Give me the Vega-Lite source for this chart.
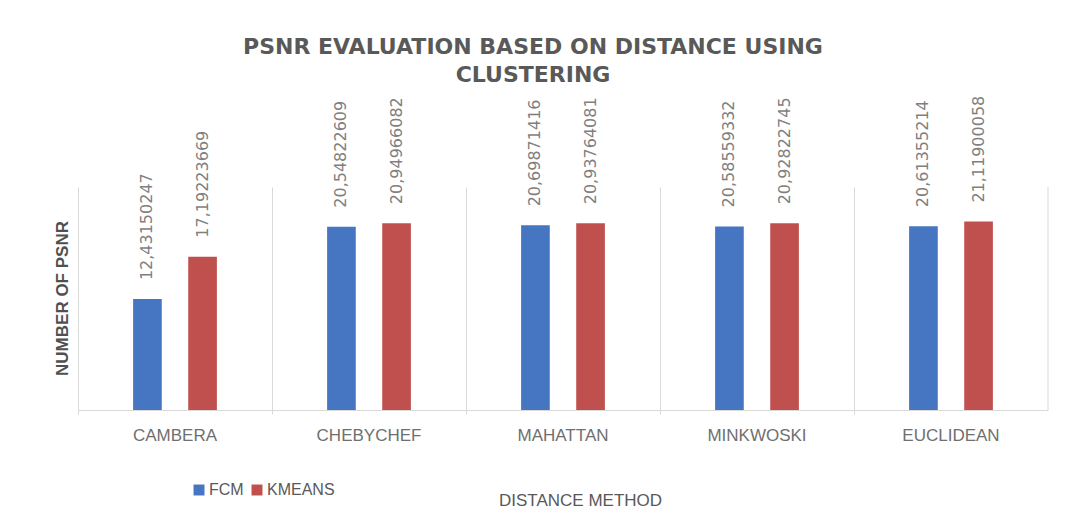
{
  "$schema": "https://vega.github.io/schema/vega-lite/v6.json",
  "autosize": {"type": "none"},
  "width": 970,
  "height": 223,
  "padding": {"left": 78, "top": 187, "right": 19, "bottom": 105},
  "background": "white",
  "config": {
    "view": {"stroke": null},
    "locale": {"number": {"decimal": ",", "thousands": ".", "grouping": [3], "currency": ["", ""]}},
    "font": "Liberation Sans"
  },
  "title": {
    "text": ["PSNR EVALUATION BASED ON DISTANCE USING", "CLUSTERING"],
    "anchor": "middle",
    "dx": -30,
    "offset": 9,
    "font": "DejaVu Sans",
    "fontSize": 22,
    "fontWeight": "bold",
    "color": "#595959",
    "lineHeight": 28
  },
  "data": {
    "values": [
      {"Distance": "CAMBERA", "Method": "FCM", "PSNR": 12.43150247},
      {"Distance": "CAMBERA", "Method": "KMEANS", "PSNR": 17.19223669},
      {"Distance": "CHEBYCHEF", "Method": "FCM", "PSNR": 20.54822609},
      {"Distance": "CHEBYCHEF", "Method": "KMEANS", "PSNR": 20.94966082},
      {"Distance": "MAHATTAN", "Method": "FCM", "PSNR": 20.69871416},
      {"Distance": "MAHATTAN", "Method": "KMEANS", "PSNR": 20.93764081},
      {"Distance": "MINKWOSKI", "Method": "FCM", "PSNR": 20.58559332},
      {"Distance": "MINKWOSKI", "Method": "KMEANS", "PSNR": 20.92822745},
      {"Distance": "EUCLIDEAN", "Method": "FCM", "PSNR": 20.61355214},
      {"Distance": "EUCLIDEAN", "Method": "KMEANS", "PSNR": 21.11900058}
    ]
  },
  "layer": [
    {
      "mark": {"type": "bar"},
      "encoding": {
        "x": {
          "field": "Distance",
          "type": "nominal",
          "scale": {"domain": ["CAMBERA", "CHEBYCHEF", "MAHATTAN", "MINKWOSKI", "EUCLIDEAN"], "paddingInner": 0, "paddingOuter": 0},
          "axis": {
            "title": "DISTANCE METHOD",
            "titleFontSize": 17,
            "titleFontWeight": "normal",
            "titleColor": "#595959",
            "titleX": 502,
            "titleY": 90,
            "titleBaseline": "middle",
            "labelAngle": 0,
            "labelFontSize": 17,
            "labelColor": "#6f6f6f",
            "labelPadding": 13,
            "domainColor": "#d9d9d9",
            "grid": true,
            "gridColor": "#d9d9d9",
            "bandPosition": 0,
            "ticks": true,
            "tickSize": 4,
            "tickColor": "#d9d9d9"
          }
        },
        "xOffset": {
          "field": "Method",
          "type": "nominal",
          "scale": {"domain": ["FCM", "KMEANS"], "paddingInner": 0.48, "paddingOuter": 1.18}
        },
        "y": {
          "field": "PSNR",
          "type": "quantitative",
          "scale": {"domain": [0, 25], "nice": false},
          "axis": {
            "title": "NUMBER OF PSNR",
            "titleFontSize": 17,
            "titleFontWeight": "bold",
            "titleColor": "#505050",
            "titleX": -16,
            "titleY": 111,
            "titleBaseline": "middle",
            "domain": false,
            "labels": false,
            "ticks": false,
            "grid": false
          }
        },
        "color": {
          "field": "Method",
          "type": "nominal",
          "scale": {"domain": ["FCM", "KMEANS"], "range": ["#4675C2", "#C0504D"]},
          "legend": {
            "title": null,
            "orient": "none",
            "direction": "horizontal",
            "legendX": 113,
            "legendY": 295,
            "symbolType": "square",
            "symbolSize": 120,
            "symbolStrokeWidth": 0,
            "labelFontSize": 16,
            "labelColor": "#595959",
            "labelOffset": 2,
            "columnPadding": 5
          }
        }
      }
    },
    {
      "mark": {
        "type": "text",
        "angle": 270,
        "align": "left",
        "baseline": "middle",
        "dx": 19,
        "font": "DejaVu Sans",
        "fontSize": 16,
        "color": "#7f7f7f"
      },
      "encoding": {
        "x": {"field": "Distance", "type": "nominal"},
        "xOffset": {"field": "Method", "type": "nominal"},
        "y": {"field": "PSNR", "type": "quantitative"},
        "text": {"field": "PSNR", "type": "quantitative", "format": ".8f"}
      }
    },
    {
      "data": {"values": [{"Edge": "EUCLIDEAN"}]},
      "mark": {"type": "rule", "color": "#d9d9d9"},
      "encoding": {
        "x": {"field": "Edge", "type": "nominal", "bandPosition": 1}
      }
    }
  ]
}
